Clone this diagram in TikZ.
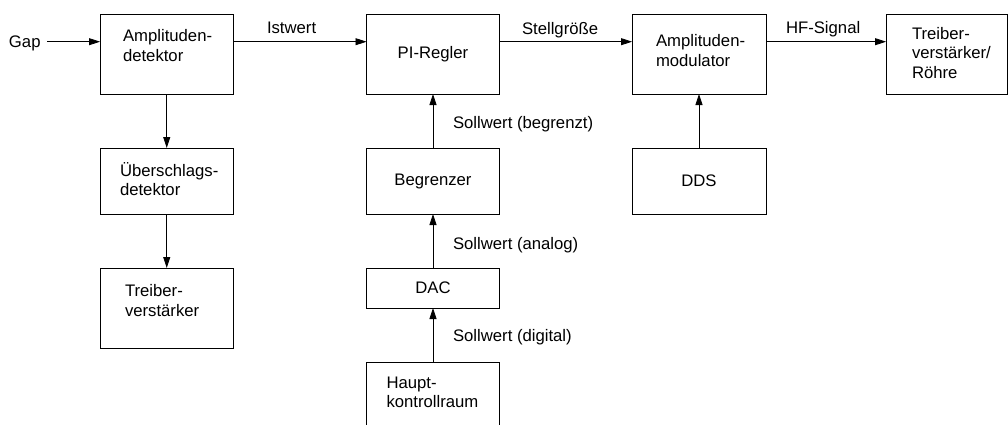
\documentclass[tikz,border=0pt]{standalone}
\usepackage{fontspec}
\setmainfont{Liberation Sans}
\usetikzlibrary{arrows.meta,calc}
\begin{document}
\begin{tikzpicture}[x=1pt,y=1pt,
  font=\fontsize{16.7}{19.5}\selectfont,
  box/.style={draw=black, line width=0.8pt, inner sep=0pt, outer sep=0pt, anchor=north west},
  txt/.style={anchor=base west, inner sep=0pt, outer sep=0pt},
  arr/.style={line width=0.8pt, -{Triangle[length=11pt,width=7pt]}}]
\useasboundingbox (0,0) rectangle (1008,-424);
% boxes
\node[box, minimum width=133.5pt, minimum height=80pt] (amp) at (100,-14) {};
\node[box, minimum width=133.5pt, minimum height=66pt] (ueb) at (100,-148) {};
\node[box, minimum width=133.5pt, minimum height=80pt] (treib) at (100,-268) {};
\node[box, minimum width=133pt, minimum height=80pt] (pi) at (366.5,-14) {PI-Regler};
\node[box, minimum width=133pt, minimum height=66pt] (begr) at (366.5,-148) {Begrenzer};
\node[box, minimum width=133pt, minimum height=40pt] (dac) at (366.5,-268) {DAC};
\node[box, minimum width=133pt, minimum height=90pt] (haupt) at (366.5,-362) {};
\node[box, minimum width=134pt, minimum height=80pt] (amod) at (632,-14) {};
\node[box, minimum width=134pt, minimum height=66pt] (dds) at (632,-148) {DDS};
\node[box, minimum width=121.4pt, minimum height=80pt] (roehre) at (886,-14) {};
% box texts
\node[txt] (tamp) at (123,-41.7) {\begin{tabular}[t]{@{}l@{}}Amplituden-\\detektor\end{tabular}};
\node[txt] (tueb) at (120,-176) {\begin{tabular}[t]{@{}l@{}}Überschlags-\\detektor\end{tabular}};
\node[txt] (ttreib) at (125,-296.5) {\begin{tabular}[t]{@{}l@{}}Treiber-\\verstärker\end{tabular}};
\node[txt] (thaupt) at (386.5,-388) {\begin{tabular}[t]{@{}l@{}}Haupt-\\kontrollraum\end{tabular}};
\node[txt] (tamod) at (656,-46.5) {\begin{tabular}[t]{@{}l@{}}Amplituden-\\modulator\end{tabular}};
\node[txt] (troehre) at (912,-39) {\begin{tabular}[t]{@{}l@{}}Treiber-\\verstärker/\\Röhre\end{tabular}};
% signal labels
\node[txt] (gap) at (9,-47) {Gap};
\node[txt] (ist) at (267,-33.5) {Istwert};
\node[txt] (stell) at (522,-34) {Stellgröße};
\node[txt] (hf) at (786,-33.5) {HF-Signal};
\node[txt] (sbeg) at (453,-128) {Sollwert (begrenzt)};
\node[txt] (sana) at (453,-249) {Sollwert (analog)};
\node[txt] (sdig) at (453,-341) {Sollwert (digital)};
% connectors
\coordinate (gapstart) at (47,-41.7);
\draw[arr] (gapstart) -- (amp.west |- gapstart);
\draw[arr] (amp.east |- gapstart) -- (pi.west |- gapstart);
\draw[arr] (pi.east |- gapstart) -- (amod.west |- gapstart);
\draw[arr] (amod.east |- gapstart) -- (roehre.west |- gapstart);
\draw[arr] (amp.south) -- (ueb.north);
\draw[arr] (ueb.south) -- (treib.north);
\draw[arr] (begr.north) -- (pi.south);
\draw[arr] (dac.north) -- (begr.south);
\draw[arr] (haupt.north) -- (dac.south);
\draw[arr] (dds.north) -- (amod.south);
\end{tikzpicture}
\end{document}
